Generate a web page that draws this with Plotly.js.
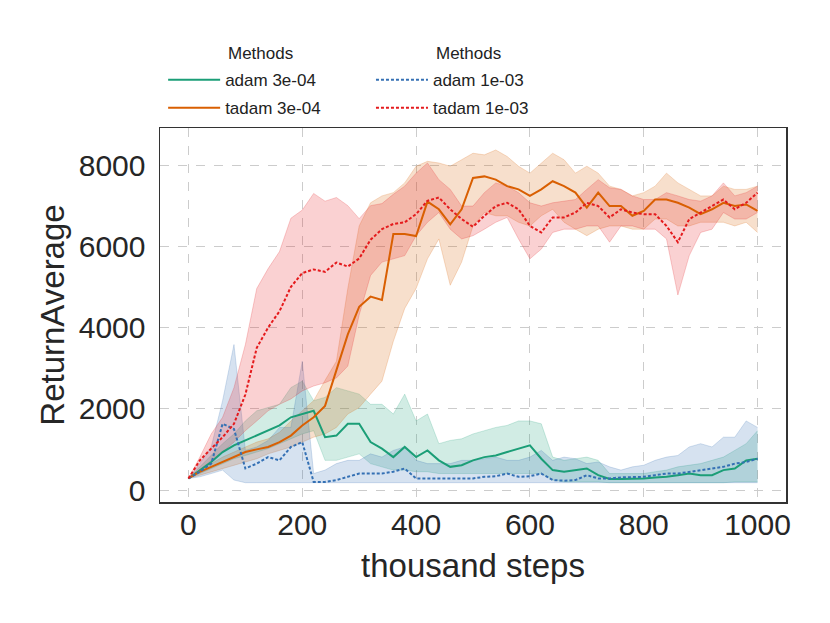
<!DOCTYPE html>
<html>
<head>
<meta charset="utf-8">
<script src="https://cdn.plot.ly/plotly-3.0.1.min.js"></script>
<style>
  html, body { margin: 0; padding: 0; background: #fff; }
  #plot { width: 830px; height: 623px; }
</style>
</head>
<body>
<div id="plot"></div>
<script>
// thousand steps
var steps = [0,20,40,60,80,100,120,140,160,180,200,220,240,260,280,300,320,340,360,380,400,
  420,440,460,480,500,520,540,560,580,600,620,640,660,680,700,720,740,760,780,800,
  820,840,860,880,900,920,940,960,980,1000];

// adam 3e-04
var adam3_mean = [285,490,690,935,1100,1220,1340,1460,1590,1790,1870,1950,1300,1340,1630,1630,1180,1020,810,1060,810,
  975,730,570,610,730,810,850,935,1020,1100,770,490,450,490,530,365,270,270,270,285,
  310,325,365,405,365,365,490,530,730,770];
var adam3_hi = [285,570,850,1140,1380,1700,1950,2030,2110,2520,2680,2200,2280,2520,2440,2360,2110,2110,1870,2360,1700,
  1870,1140,1220,1260,1380,1460,1540,1590,1700,1700,1630,810,730,770,810,730,405,405,405,405,
  450,490,570,610,650,730,810,975,1140,1460];
var adam3_lo = [285,405,530,650,770,850,935,1020,1140,1260,1380,1460,730,730,810,890,650,570,490,490,450,
  450,405,405,405,405,405,405,405,405,405,405,245,200,200,200,200,180,180,180,180,
  180,180,180,180,180,180,180,200,200,200];

// tadam 3e-04
var tadam3_mean = [285,450,570,690,810,935,1000,1060,1180,1340,1590,1790,2070,2930,3830,4510,4760,4680,6300,6300,6250,
  7100,6910,6540,6910,7680,7720,7640,7480,7400,7240,7400,7600,7480,7320,6950,7320,6990,6990,6750,6870,
  7150,7150,7070,6950,6790,6910,7070,6990,7030,6870];
var tadam3_hi = [285,490,650,810,935,1060,1180,1260,1420,1700,1950,2200,2700,3170,4960,6500,7070,7240,7320,7560,7970,
  8090,8050,7970,8130,8290,8250,8370,8210,7970,7800,8050,8290,8130,7800,7970,7800,7480,7400,7240,7320,
  7480,7800,7560,7400,7240,7240,7480,7400,7400,7480];
var tadam3_lo = [285,365,450,530,610,690,770,890,975,1060,1180,1300,1380,1540,1870,2030,2360,2680,3660,4470,4960,
  5690,6180,5040,5610,6500,6830,6750,6750,6590,6500,6750,6910,6590,6420,6260,6420,6500,6500,6420,6420,
  6670,6670,6500,6500,6590,6590,6590,6500,6590,6340];

// adam 1e-03
var adam1_mean = [285,450,650,1630,1500,530,650,810,730,1060,1180,200,200,245,325,405,405,405,450,530,285,
  285,285,285,285,285,325,340,405,325,340,405,245,230,245,365,285,285,310,325,325,
  365,405,405,450,490,530,570,650,690,770];
var adam1_hi = [285,650,1060,2200,3580,975,1060,1220,1540,1540,3170,405,490,650,730,730,890,810,975,1060,730,
  650,650,650,730,730,770,810,730,730,810,975,730,810,770,650,690,570,490,570,610,
  730,810,850,1060,1140,1060,1300,1300,1700,1540];
var adam1_lo = [285,325,405,490,245,180,180,180,180,180,180,180,180,180,180,180,180,180,180,180,180,
  180,180,180,180,180,180,180,180,180,180,180,180,180,180,180,180,180,180,180,180,
  180,180,180,180,180,180,180,180,180,180];

// tadam 1e-03
var tadam1_mean = [285,730,1020,1300,1630,2350,3500,4000,4400,5000,5340,5430,5370,5600,5500,5700,6160,6420,6550,6590,6790,
  7120,7200,6910,6670,6480,6750,6990,7070,6910,6500,6340,6710,6710,6830,7070,6990,6710,6910,6830,6790,
  6790,6500,6100,6670,6830,6990,7150,6910,7070,7320];
var tadam1_hi = [285,810,1380,1790,2520,3580,4960,5450,5870,6690,6890,7300,7110,7200,7000,6680,7000,7050,7280,7480,7800,
  8050,7640,7400,6990,6990,7320,7560,7480,7320,7070,6990,7070,7110,7150,7400,7640,7440,7400,7240,7150,
  7150,7320,7240,7150,7110,7240,7560,7240,7320,7480];
var tadam1_lo = [285,490,730,935,1180,1460,1700,1950,2110,2240,2440,2560,2640,2760,3050,4310,5280,5610,5690,5770,6260,
  6590,6830,6420,6180,6260,6420,6590,6710,6180,5690,5930,6340,6420,6420,6500,6500,6100,6500,6500,6420,
  6420,6180,4800,5770,6340,6420,6830,6670,6670,6830];

var methods = [
  {name: "adam 3e-04", mean: adam3_mean, lo: adam3_lo, hi: adam3_hi, rgb: "27,158,119", dash: "solid", legend: "legend"},
  {name: "tadam 3e-04", mean: tadam3_mean, lo: tadam3_lo, hi: tadam3_hi, rgb: "217,95,2", dash: "solid", legend: "legend"},
  {name: "adam 1e-03", mean: adam1_mean, lo: adam1_lo, hi: adam1_hi, rgb: "52,112,180", dash: "3px,2px", legend: "legend2"},
  {name: "tadam 1e-03", mean: tadam1_mean, lo: tadam1_lo, hi: tadam1_hi, rgb: "228,26,28", dash: "3px,2px", legend: "legend2"}
];

var traces = [];
// shaded bands first
methods.forEach(function(m){
  traces.push({
    type: "scatter", x: steps, y: m.lo, mode: "lines", showlegend: false, hoverinfo: "skip",
    line: {color: "rgba(" + m.rgb + ",0.3)", width: 0.7}
  });
  traces.push({
    type: "scatter", x: steps, y: m.hi, mode: "lines", fill: "tonexty", showlegend: false, hoverinfo: "skip",
    fillcolor: "rgba(" + m.rgb + ",0.2)",
    line: {color: "rgba(" + m.rgb + ",0.3)", width: 0.7}
  });
});
// mean lines
methods.forEach(function(m, i){
  traces.push({
    type: "scatter", x: steps, y: m.mean, mode: "lines", name: m.name,
    legend: m.legend, legendgroup: "g" + i,
    line: {color: "rgb(" + m.rgb + ")", width: 2, dash: m.dash}
  });
});

var font = "Liberation Sans, Arial, sans-serif";
var legendStyle = {
  font: {family: font, size: 17, color: "#222"},
  bgcolor: "rgba(0,0,0,0)",
  xanchor: "left", yanchor: "top",
  traceorder: "grouped", tracegroupgap: 3,
  itemwidth: 52
};

var layout = {
  width: 830,
  height: 623,
  paper_bgcolor: "#fff",
  plot_bgcolor: "#fff",
  margin: {l: 160, r: 44, t: 128, b: 121},
  font: {family: font, color: "#262626"},
  showlegend: true,
  legend: Object.assign({x: 0.005, y: 1.176}, legendStyle),
  legend2: Object.assign({x: 0.337, y: 1.176}, legendStyle),
  xaxis: {
    range: [-50, 1050],
    tickvals: [0, 200, 400, 600, 800, 1000],
    tickfont: {size: 30, color: "#262626"},
    showgrid: true, gridcolor: "#cccccc", griddash: "dash", gridwidth: 1,
    zeroline: false,
    showline: true, mirror: true, linecolor: "#333", linewidth: 1.5,
    ticks: "", ticklabelstandoff: -5,
    title: {text: "thousand steps", font: {size: 33, color: "#262626"}, standoff: 14}
  },
  yaxis: {
    range: [-295, 8911],
    tickvals: [0, 2000, 4000, 6000, 8000],
    tickfont: {size: 30, color: "#262626"},
    showgrid: true, gridcolor: "#cccccc", griddash: "dash", gridwidth: 1,
    zeroline: false,
    showline: true, mirror: true, linecolor: "#333", linewidth: 1.5,
    ticks: "", ticklabelstandoff: 7,
    title: {text: "ReturnAverage", font: {size: 33, color: "#262626"}, standoff: 4}
  },
  annotations: [
    {text: "Methods", xref: "paper", yref: "paper", x: (226 - 160) / 626, y: (502 - 53) / 374,
     xanchor: "left", yanchor: "middle", showarrow: false, font: {size: 17, color: "#222"}},
    {text: "Methods", xref: "paper", yref: "paper", x: (434 - 160) / 626, y: (502 - 53) / 374,
     xanchor: "left", yanchor: "middle", showarrow: false, font: {size: 17, color: "#222"}}
  ]
};

Plotly.newPlot("plot", traces, layout, {staticPlot: true});
</script>
</body>
</html>
